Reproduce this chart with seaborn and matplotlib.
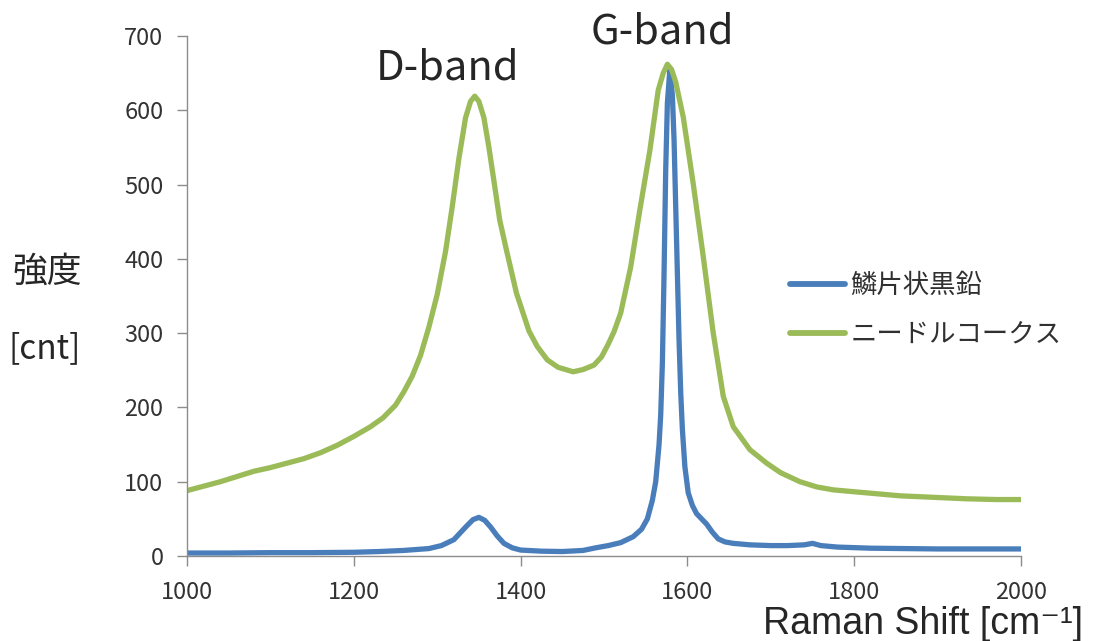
# Raman spectra of flake graphite vs needle coke
import pandas as pd
import matplotlib
matplotlib.use("Agg")
import matplotlib.pyplot as plt
import seaborn as sns

# values

# 鱗片状黒鉛 (flake graphite)
graphite_shift = [1000, 1050, 1100, 1150, 1200, 1230, 1260, 1290, 1305, 1320,
                  1335, 1343, 1350, 1357, 1364, 1372, 1380, 1390, 1400, 1425,
                  1450, 1475, 1490, 1505, 1520, 1535, 1545, 1552, 1558, 1562,
                  1566, 1568, 1570, 1572, 1574, 1576, 1579, 1582, 1584, 1586,
                  1588, 1590, 1592, 1594, 1597, 1601, 1606, 1611, 1617, 1623,
                  1630, 1637, 1645, 1655, 1675, 1700, 1720, 1740, 1750, 1760,
                  1780, 1820, 1860, 1900, 1950, 2000]
graphite_cnt = [4, 4, 4.5, 4.5, 5, 6, 7.5, 10, 14, 22,
                40, 49, 52, 48, 39, 27, 17, 11, 8, 6.5,
                6, 7.5, 11, 14, 18, 26, 36, 50, 75, 100,
                150, 190, 260, 380, 520, 610, 655, 620, 560, 470,
                380, 290, 220, 170, 120, 85, 68, 57, 50, 43,
                32, 23, 19, 17, 15, 14, 14, 15, 17, 14,
                12, 10.5, 10, 9.5, 9.5, 9.5]

# ニードルコークス (needle coke)
coke_shift = [1000, 1020, 1040, 1060, 1080, 1100, 1120, 1140, 1160, 1180,
              1200, 1220, 1235, 1250, 1260, 1270, 1280, 1290, 1300, 1310,
              1318, 1326, 1334, 1340, 1345, 1350, 1356, 1362, 1368, 1375,
              1383, 1395, 1410, 1420, 1432, 1445, 1463, 1475, 1488, 1497,
              1505, 1512, 1520, 1532, 1543, 1555, 1565, 1571, 1576, 1581,
              1586, 1595, 1607, 1619, 1631, 1643, 1655, 1675, 1695, 1712,
              1735, 1755, 1775, 1815, 1855, 1895, 1935, 1970, 2000]
coke_cnt = [88, 94, 100, 107, 114, 119, 125, 131, 139, 149,
            161, 174, 186, 203, 221, 242, 270, 308, 352, 410,
            470, 535, 590, 612, 619, 612, 590, 550, 505, 452,
            412, 354, 303, 282, 264, 254, 248, 251, 257, 268,
            285, 302, 327, 389, 466, 546, 627, 650, 662, 655,
            638, 591, 501, 403, 300, 215, 174, 143, 125, 112,
            100, 93, 89, 85, 81, 79, 77, 76, 76]

labels = ["鱗片状黒鉛", "ニードルコークス"]
x_ticks = [1000, 1200, 1400, 1600, 1800, 2000]
y_ticks = [0, 100, 200, 300, 400, 500, 600, 700]

graphite = pd.DataFrame({"shift": graphite_shift, "cnt": graphite_cnt})
coke = pd.DataFrame({"shift": coke_shift, "cnt": coke_cnt})

sns.set_style("ticks")
plt.rcParams["font.family"] = ["Noto Sans CJK JP", "DejaVu Sans"]

fig = plt.figure(figsize=(11.1, 6.41), dpi=100)
ax = fig.add_axes([187 / 1110, 85 / 641, 834 / 1110, 520 / 641])

sns.lineplot(data=graphite, x="shift", y="cnt", ax=ax, color="#4A7EBB",
             linewidth=3.8, label=labels[0])
sns.lineplot(data=coke, x="shift", y="cnt", ax=ax, color="#9BBB59",
             linewidth=3.8, label=labels[1])

ax.set_xlim(1000, 2000)
ax.set_ylim(0, 700)
ax.set_xticks(x_ticks)
ax.set_yticks(y_ticks)
ax.set_xlabel("")
ax.set_ylabel("")

# excel-like gray axes, only left and bottom
sns.despine(ax=ax)
for side in ["left", "bottom"]:
    ax.spines[side].set_color("#8c8c8c")
    ax.spines[side].set_linewidth(1.0)
ax.tick_params(axis="both", colors="#8c8c8c", labelcolor="#333333",
               length=7, width=1.0, labelsize=17)
ax.tick_params(axis="x", pad=11)
ax.tick_params(axis="y", pad=10)

leg = ax.legend(loc="upper left", bbox_to_anchor=(790 / 1110, 1 - 272 / 641),
                bbox_transform=fig.transFigure, frameon=False, fontsize=19,
                handlelength=2.1, handletextpad=0.2, labelspacing=0.85,
                borderpad=0, borderaxespad=0)
for line in leg.get_lines():
    line.set_solid_capstyle("round")
    line.set_linewidth(4.2)
for t in leg.get_texts():
    t.set_color("#303030")

# annotations and axis titles
fig.text(448 / 1110, 1 - 68 / 641, "D-band", fontsize=30, ha="center", va="center")
fig.text(662 / 1110, 1 - 32 / 641, "G-band", fontsize=30, ha="center", va="center")
fig.text(47 / 1110, 1 - 272 / 641, "強度", fontsize=25, ha="center", va="center")
fig.text(45 / 1110, 1 - 349 / 641, "[cnt]", fontsize=24, ha="center", va="center")
fig.text(763 / 1110, 7 / 641, "Raman Shift [cm\u207b\u00b9]", fontsize=27,
         family=["Liberation Sans", "DejaVu Sans"], ha="left", va="baseline")

plt.savefig("out.png", dpi=100)
